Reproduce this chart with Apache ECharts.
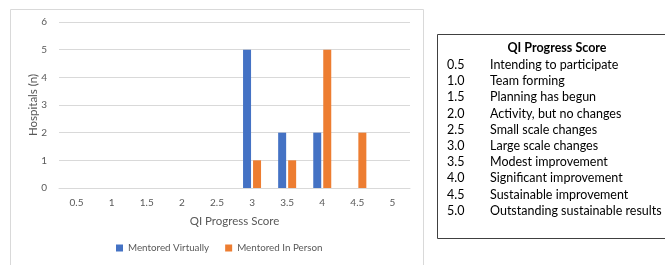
<!DOCTYPE html>
<html><head><meta charset="utf-8">
<script src="https://cdn.jsdelivr.net/npm/echarts@6/dist/echarts.min.js"></script>
<style>html,body{margin:0;padding:0;background:#fff}#c{width:665px;height:265px}</style>
</head><body><div id="c"></div>
<script>
var categories = ['0.5','1','1.5','2','2.5','3','3.5','4','4.5','5'];
var mentoredVirtually = [0,0,0,0,0,5,2,2,0,0];
var mentoredInPerson = [0,0,0,0,0,1,1,5,2,0];
var scoreCodes = ['0.5','1.0','1.5','2.0','2.5','3.0','3.5','4.0','4.5','5.0'];
var scoreDescriptions = ['Intending to participate','Team forming','Planning has begun','Activity, but no changes','Small scale changes','Large scale changes','Modest improvement','Significant improvement','Sustainable improvement','Outstanding sustainable results'];

var FONT = 'Lato, "Open Sans", sans-serif';
var chart = echarts.init(document.getElementById('c'), null, {renderer:'canvas'});
var graphics = [
  {type:'rect', shape:{x:10.5,y:9.5,width:413,height:270}, style:{fill:'none',stroke:'#d9d9d9',lineWidth:1}, silent:true, z:-1},
  {type:'rect', shape:{x:437.5,y:34.5,width:240,height:204}, style:{fill:'#fff',stroke:'#404040',lineWidth:1}, silent:true},
  {type:'text', x:557, y:48, style:{text:'QI Progress Score', font:'bold 12.5px '+FONT, fill:'#000', textAlign:'center', textVerticalAlign:'middle'}}
];
for (var i=0;i<scoreCodes.length;i++){
  var yy = 65 + i*16.2;
  graphics.push({type:'text', x:447, y:yy, style:{text:scoreCodes[i], font:'12.5px '+FONT, fill:'#000', textVerticalAlign:'middle'}});
  graphics.push({type:'text', x:490, y:yy, style:{text:scoreDescriptions[i], font:'12.5px '+FONT, fill:'#000', textVerticalAlign:'middle'}});
}
chart.setOption({
  animation:false,
  textStyle:{fontFamily:FONT},
  grid:{left:59, right:255, top:22, bottom:77},
  legend:{bottom:7, left:111, itemWidth:7, itemHeight:7, itemGap:16, icon:'rect',
    textStyle:{fontSize:9.8, color:'#595959', fontFamily:FONT},
    data:['Mentored Virtually','Mentored In Person']},
  xAxis:{type:'category', data:categories, name:'QI Progress Score', nameLocation:'middle', nameGap:27,
    nameTextStyle:{fontSize:11.5, color:'#595959'},
    axisLine:{lineStyle:{color:'#d9d9d9'}}, axisTick:{show:false},
    axisLabel:{fontSize:10, color:'#595959', margin:10}},
  yAxis:{type:'value', min:0, max:6, interval:1, name:'Hospitals (n)', nameLocation:'middle', nameGap:20,
    nameMoveOverlap:false,
    nameTextStyle:{fontSize:11.5, color:'#595959'},
    axisLine:{show:false}, axisTick:{show:false},
    axisLabel:{fontSize:10, color:'#595959', margin:12},
    splitLine:{lineStyle:{color:'#d9d9d9'}}},
  series:[
    {name:'Mentored Virtually', type:'bar', data:mentoredVirtually, barWidth:8, barGap:'25%', itemStyle:{color:'#4472C4'}},
    {name:'Mentored In Person', type:'bar', data:mentoredInPerson, barWidth:8, barGap:'25%', itemStyle:{color:'#ED7D31'}}
  ],
  graphic:graphics
});
</script></body></html>
